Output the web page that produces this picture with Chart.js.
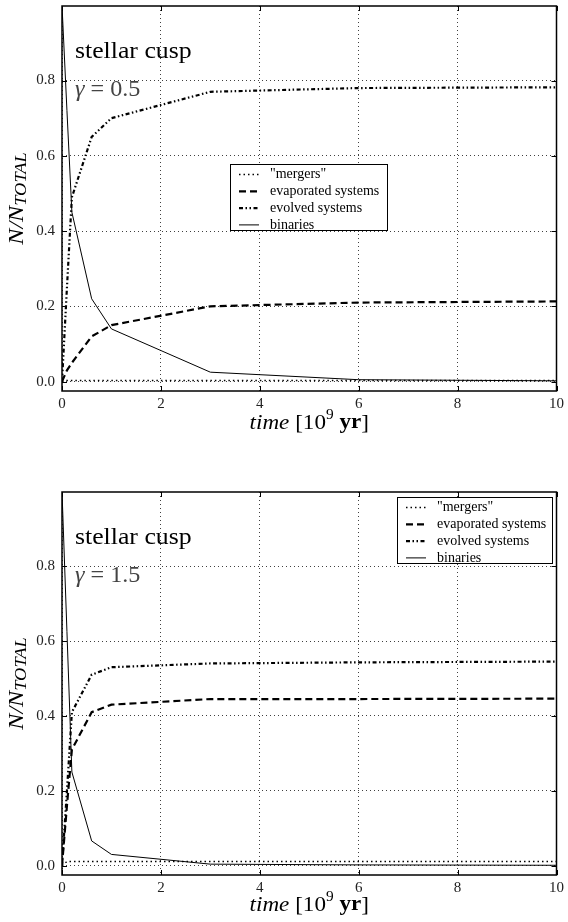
<!DOCTYPE html>
<html>
<head>
<meta charset="utf-8">
<script src="https://cdn.jsdelivr.net/npm/chart.js@4/dist/chart.umd.min.js"></script>
<style>
  body { margin: 0; background: #fff; }
  #wrap { position: relative; width: 568px; height: 922px; }
  #cusp05 { position: absolute; left: 0; top: 0; }
  #cusp15 { position: absolute; left: 0; top: 460px; }
</style>
</head>
<body>
<div id="wrap">
  <canvas id="cusp05" width="568" height="450"></canvas>
  <canvas id="cusp15" width="568" height="462"></canvas>
</div>
<script>
// time in 10^9 yr
const times = [0, 0.1, 0.2, 0.6, 1, 3, 6, 10];
const xTickValues = [0, 2, 4, 6, 8, 10];
const yTickValues = [0, 0.2, 0.4, 0.6, 0.8];
const seriesLabels = ['"mergers"', 'evaporated systems', 'evolved systems', 'binaries'];

// gamma = 0.5
const cusp05Mergers    = [0, 0.003, 0.003, 0.003, 0.003, 0.003, 0.003, 0.003];
const cusp05Evaporated = [0, 0.03, 0.05, 0.12, 0.15, 0.20, 0.21, 0.213];
const cusp05Evolved    = [0, 0.25, 0.49, 0.65, 0.70, 0.77, 0.78, 0.782];
const cusp05Binaries   = [1.0, 0.72, 0.45, 0.22, 0.14, 0.025, 0.005, 0.002];

// gamma = 1.5
const cusp15Mergers    = [0, 0.011, 0.011, 0.011, 0.011, 0.011, 0.011, 0.011];
const cusp15Evaporated = [0, 0.16, 0.31, 0.41, 0.43, 0.445, 0.445, 0.446];
const cusp15Evolved    = [0, 0.20, 0.41, 0.51, 0.53, 0.54, 0.543, 0.545];
const cusp15Binaries   = [1.0, 0.625, 0.25, 0.066, 0.03, 0.004, 0.002, 0.001];

const serif = '"Liberation Serif", "DejaVu Serif", serif';

// line styles for the four series
const styles = [
  { width: 1.5, dash: [1.5, 3] },
  { width: 2.2, dash: [7, 4] },
  { width: 2.2, dash: [4, 2.5, 1.5, 2.5, 1.5, 2.5] },
  { width: 1, dash: [] }
];

function toPoints(values) {
  return values.map((v, i) => ({ x: times[i], y: v }));
}

// text a bit wider than Times, closer to the TeX look of the original
function stretchText(ctx, text, x, y, font, sx, color) {
  ctx.save();
  ctx.translate(x, y);
  ctx.scale(sx, 1);
  ctx.font = font;
  ctx.fillStyle = color || '#000';
  ctx.fillText(text, 0, 0);
  ctx.restore();
  ctx.font = font;
  return ctx.measureText(text).width * sx;
}

function richText(ctx, segs, x, y, sx) {
  let total = 0;
  segs.forEach(s => { ctx.font = s.font; total += ctx.measureText(s.text).width * sx; });
  let cx = x - total / 2;
  segs.forEach(s => {
    cx += stretchText(ctx, s.text, cx, y + (s.dy || 0), s.font, sx, s.color);
  });
}

const paperPlugin = {
  id: 'paper',
  afterDraw(chart, args, opts) {
    const { ctx, chartArea: a, scales: { x, y } } = chart;
    ctx.save();

    // inward ticks on all four sides
    ctx.strokeStyle = '#000';
    ctx.lineWidth = 1;
    ctx.setLineDash([]);
    ctx.beginPath();
    x.ticks.forEach(t => {
      const px = Math.round(x.getPixelForValue(t.value)) + 0.5;
      ctx.moveTo(px, a.bottom); ctx.lineTo(px, a.bottom - 5);
      ctx.moveTo(px, a.top); ctx.lineTo(px, a.top + 5);
    });
    y.ticks.forEach(t => {
      const py = Math.round(y.getPixelForValue(t.value)) + 0.5;
      ctx.moveTo(a.left, py); ctx.lineTo(a.left + 5, py);
      ctx.moveTo(a.right, py); ctx.lineTo(a.right - 5, py);
    });
    ctx.stroke();

    // frame
    ctx.lineWidth = 1.5;
    ctx.strokeRect(a.left, a.top, a.right - a.left, a.bottom - a.top);

    // legend
    const lg = opts.legend;
    const lx = a.left + lg.x, ly = a.top + lg.y;
    ctx.fillStyle = '#fff';
    ctx.fillRect(lx, ly, lg.w, lg.h);
    ctx.lineWidth = 1;
    ctx.strokeStyle = '#000';
    ctx.strokeRect(lx + 0.5, ly + 0.5, lg.w, lg.h);
    ctx.textBaseline = 'middle';
    chart.data.datasets.forEach((ds, i) => {
      const ry = ly + 10.5 + i * 16.8;
      ctx.beginPath();
      ctx.lineWidth = ds.borderWidth;
      ctx.setLineDash(ds.borderDash);
      ctx.moveTo(lx + 9, ry);
      ctx.lineTo(lx + 29, ry);
      ctx.stroke();
      ctx.setLineDash([]);
      stretchText(ctx, ds.label, lx + 40, ry, '14px ' + serif, 1.0);
    });

    // panel annotation
    ctx.textAlign = 'left';
    stretchText(ctx, 'stellar cusp', a.left + 13, a.top + 46, '23px ' + serif, 1.12);
    const gw = stretchText(ctx, '\u03b3', a.left + 13, a.top + 84, 'italic 23px ' + serif, 1.05, '#444');
    stretchText(ctx, ' = ' + opts.gamma, a.left + 13 + gw, a.top + 84, '23px ' + serif, 1.05, '#444');

    // x title
    const mid = (a.left + a.right) / 2;
    richText(ctx, [
      { text: 'time', font: 'italic 21px ' + serif },
      { text: ' [10', font: '21px ' + serif },
      { text: '9', font: '14px ' + serif, dy: -8 },
      { text: ' ', font: '21px ' + serif },
      { text: 'yr', font: 'bold 21px ' + serif },
      { text: ']', font: '21px ' + serif }
    ], mid, a.bottom + opts.xTitleGap, 1.1);

    // y title
    ctx.save();
    ctx.translate(17, (a.top + a.bottom) / 2);
    ctx.rotate(-Math.PI / 2);
    richText(ctx, [
      { text: 'N/N', font: 'italic 21px ' + serif },
      { text: 'TOTAL', font: 'italic 16px ' + serif, dy: 5 }
    ], 0, 0, 1.15);
    ctx.restore();

    ctx.restore();
  }
};

function makeChart(id, series, gamma, pad, xHeight, legend, xTitleGap) {
  const datasets = series.map((vals, i) => ({
    label: seriesLabels[i],
    data: toPoints(vals),
    borderColor: '#000',
    borderWidth: styles[i].width,
    borderDash: styles[i].dash,
    borderCapStyle: 'butt',
    pointRadius: 0,
    tension: 0,
    fill: false
  }));

  return new Chart(document.getElementById(id), {
    type: 'line',
    data: { datasets: datasets },
    options: {
      responsive: false,
      animation: false,
      layout: { padding: { top: pad, right: 11, left: 0, bottom: 0 } },
      plugins: {
        legend: { display: false },
        tooltip: { enabled: false },
        paper: { gamma: gamma, legend: legend, xTitleGap: xTitleGap }
      },
      scales: {
        x: {
          type: 'linear',
          min: 0,
          max: 10,
          afterBuildTicks: s => { s.ticks = xTickValues.map(v => ({ value: v })); },
          afterFit: s => { s.height = xHeight; },
          grid: { color: 'rgba(0,0,0,0.75)', lineWidth: 1, drawTicks: false },
          border: { display: false, dash: [1, 3] },
          ticks: { padding: 4, color: '#222', font: { family: serif, size: 15 }, maxRotation: 0,
                   callback: v => String(v) }
        },
        y: {
          type: 'linear',
          min: -0.025,
          max: 0.998,
          afterBuildTicks: s => { s.ticks = yTickValues.map(v => ({ value: v })); },
          afterFit: s => { s.width = 62; s.paddingTop = 0; s.paddingBottom = 0; },
          grid: { color: 'rgba(0,0,0,0.75)', lineWidth: 1, drawTicks: false },
          border: { display: false, dash: [1, 3] },
          ticks: { padding: 7, color: '#222', font: { family: serif, size: 15 },
                   callback: v => v.toFixed(1) }
        }
      }
    },
    plugins: [paperPlugin]
  });
}

makeChart('cusp05', [cusp05Mergers, cusp05Evaporated, cusp05Evolved, cusp05Binaries],
  '0.5', 6, 59, { x: 168, y: 158, w: 157, h: 66 }, 32);
makeChart('cusp15', [cusp15Mergers, cusp15Evaporated, cusp15Evolved, cusp15Binaries],
  '1.5', 32, 47, { x: 335, y: 5, w: 155, h: 66 }, 30);
</script>
</body>
</html>
